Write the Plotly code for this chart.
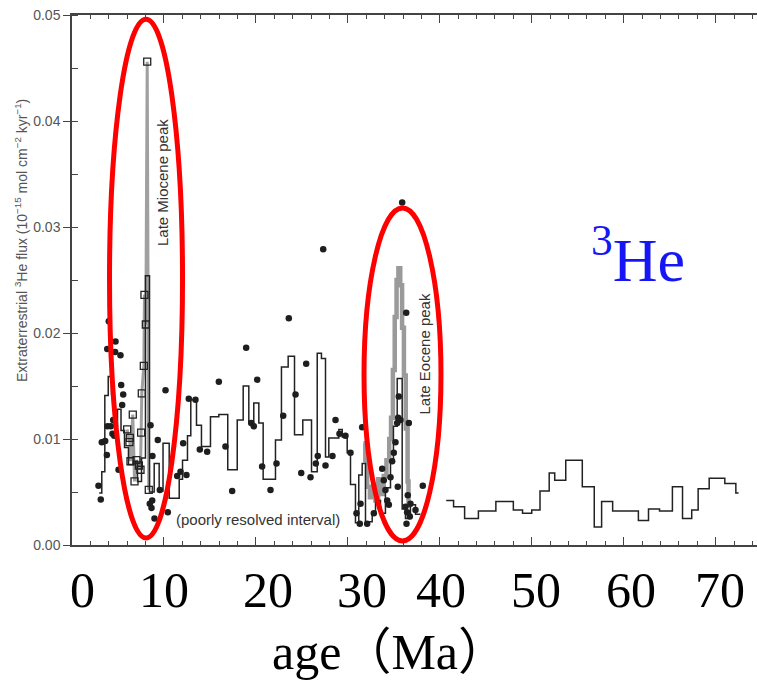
import plotly.graph_objects as go

# ---- data ----
# Main stepped 3He flux record, 0-38 Ma (bin edges in Ma, flux per bin)
step1_edges = [2.96, 3.24, 3.57, 3.94, 4.30, 4.57, 4.95, 5.33, 5.71, 6.14, 6.69, 7.12, 7.56, 7.99,
               8.43, 8.94, 9.48, 9.90, 10.57, 11.66, 12.02, 12.56, 12.92, 13.54, 14.08, 15.06, 15.97,
               16.94, 17.97, 18.62, 19.23, 19.77, 20.32, 20.79, 22.13, 22.78, 23.51, 24.20, 25.10,
               26.05, 26.67, 27.13, 27.57, 27.93, 29.02, 29.39, 29.93, 30.29, 30.83, 31.19, 31.56,
               31.92, 32.65, 33.01, 33.55, 34.09, 34.64, 34.96, 35.37, 35.91, 36.27, 36.81, 37.36, 37.90]
step1_flux = [0.0049, 0.0069, 0.0141, 0.0159, 0.0142, 0.0112, 0.0128, 0.0108, 0.0092, 0.0076, 0.0079,
              0.0060, 0.0082, 0.0254, 0.0050, 0.0077, 0.0051, 0.0096, 0.0044, 0.0062, 0.0080, 0.0103,
              0.0137, 0.0113, 0.0093, 0.0121, 0.0123, 0.0071, 0.0118, 0.0150, 0.0115, 0.0134, 0.0115,
              0.0062, 0.0099, 0.0168, 0.0178, 0.0104, 0.0118, 0.0069, 0.0181, 0.0176, 0.0083, 0.0101,
              0.0109, 0.0102, 0.0087, 0.0057, 0.0021, 0.0066, 0.0077, 0.0022, 0.0031, 0.0042, 0.0030,
              0.0054, 0.0080, 0.0112, 0.0157, 0.0034, 0.0025, 0.0038, 0.0029]

# Stepped record, 40-73 Ma
step2_edges = [40.7, 41.5, 42.7, 44.2, 46.1, 48.0, 49.0, 50.0, 50.9, 51.9, 52.5, 53.7, 55.5, 56.8,
               57.6, 58.8, 61.6, 62.7, 63.9, 65.3, 66.4, 67.4, 68.1, 69.3, 71.0, 72.2, 72.5]
step2_flux = [0.0042, 0.0036, 0.0025, 0.0032, 0.0041, 0.0033, 0.0030, 0.0033, 0.0051, 0.0068, 0.0061,
              0.0080, 0.0055, 0.0017, 0.0041, 0.0032, 0.0023, 0.0034, 0.0032, 0.0055, 0.0025, 0.0033,
              0.0053, 0.0063, 0.0058, 0.0049]

# Individual measurements (filled dots)
dot_age = [2.88, 3.13, 3.24, 3.61, 3.79, 3.83, 3.86, 4.00, 4.22, 4.40, 4.48, 4.59, 4.69, 4.73, 5.06,
           5.27, 5.35, 5.46, 5.57, 8.46, 8.54, 8.65, 8.72, 8.75, 8.97, 9.33, 9.55, 10.17, 10.42,
           11.44, 11.80, 12.09, 12.45, 12.70, 13.43, 13.90, 14.70, 15.97, 16.69, 17.42, 18.94,
           19.49, 19.77, 20.14, 20.68, 21.59, 22.24, 22.97, 23.58, 24.31, 24.93, 25.47, 25.94,
           26.52, 26.73, 27.32, 27.57, 28.33, 28.66, 29.09, 29.74, 30.29, 30.94, 31.30, 31.38,
           31.56, 32.10, 32.83, 33.73, 33.91, 34.09, 34.28, 34.46, 34.64, 34.82, 35.00, 35.18,
           35.37, 35.43, 35.47, 35.54, 35.73, 35.91, 36.27, 36.35, 36.38, 36.45, 36.52, 36.63,
           36.74, 36.81, 37.36, 38.15]
dot_flux = [0.0056, 0.0043, 0.0097, 0.0098, 0.0085, 0.0185, 0.0112, 0.0211, 0.0112, 0.0105, 0.0118,
            0.0103, 0.0182, 0.0192, 0.0071, 0.0179, 0.0151, 0.0132, 0.0142, 0.0039, 0.0113, 0.0035,
            0.0042, 0.0084, 0.0025, 0.0099, 0.0052, 0.0146, 0.0031, 0.0065, 0.0069, 0.0096, 0.0066,
            0.0138, 0.0137, 0.0090, 0.0088, 0.0154, 0.0093, 0.0051, 0.0186, 0.0115, 0.0112, 0.0156,
            0.0074, 0.0052, 0.0077, 0.0122, 0.0214, 0.0142, 0.0068, 0.0171, 0.0064, 0.0077, 0.0084,
            0.0279, 0.0075, 0.0084, 0.0118, 0.0105, 0.0103, 0.0087, 0.0030, 0.0020, 0.0039, 0.0111,
            0.0020, 0.0030, 0.0072, 0.0061, 0.0052, 0.0042, 0.0038, 0.0064, 0.0079, 0.0087, 0.0097,
            0.0115, 0.0055, 0.0120, 0.0140, 0.0118, 0.0323, 0.0036, 0.0219, 0.0020, 0.0031, 0.0047,
            0.0115, 0.0027, 0.0039, 0.0033, 0.0056]

# Late Miocene high-resolution record (open squares on grey line)
mio_age = [6.00, 6.25, 6.29, 6.36, 6.61, 6.80, 7.01, 7.27, 7.45, 7.52, 7.59, 7.81, 7.88, 8.03, 8.18, 8.35]
mio_flux = [0.0109, 0.0097, 0.0101, 0.0079, 0.0123, 0.0060, 0.0080, 0.0075, 0.0071, 0.0106, 0.0143,
            0.0169, 0.0236, 0.0208, 0.0456, 0.0052]

# Late Eocene high-resolution record (grey stepped line)
eoc_age = [31.7, 31.9, 32.1, 32.4, 32.7, 33.0, 33.3, 33.6, 33.9, 34.2, 34.5, 34.7, 34.9, 35.1, 35.3,
           35.5, 35.7, 35.9, 36.1, 36.3, 36.5, 36.6]
eoc_flux = [0.0096, 0.0080, 0.0055, 0.0045, 0.0052, 0.0042, 0.0062, 0.0048, 0.0065, 0.0080, 0.0100,
            0.0120, 0.0165, 0.0215, 0.0250, 0.0261, 0.0245, 0.0205, 0.0160, 0.0110, 0.0060, 0.0035]

x_tick_labels = ["0", "10", "20", "30", "40", "50", "60", "70"]
x_tick_label_pos = [1.09, 10.01, 21.32, 31.54, 40.13, 50.46, 60.79, 70.47]

# ---- figure ----
fig = go.Figure()

fig.add_trace(go.Scatter(x=eoc_age, y=eoc_flux, mode="lines", line_shape="hv",
                         line=dict(color="#9a9a9a", width=4.5), hoverinfo="skip"))
fig.add_trace(go.Scatter(x=mio_age, y=mio_flux, mode="lines",
                         line=dict(color="#a0a0a0", width=3), hoverinfo="skip"))
fig.add_trace(go.Scatter(x=step1_edges, y=step1_flux + [step1_flux[-1]], mode="lines", line_shape="hv",
                         line=dict(color="#222222", width=1.5)))
fig.add_trace(go.Scatter(x=step2_edges, y=step2_flux + [step2_flux[-1]], mode="lines", line_shape="hv",
                         line=dict(color="#222222", width=1.5)))
fig.add_trace(go.Scatter(x=mio_age, y=mio_flux, mode="markers",
                         marker=dict(symbol="square-open", size=7, color="#222222", line=dict(width=1.3))))
fig.add_trace(go.Scatter(x=dot_age, y=dot_flux, mode="markers",
                         marker=dict(symbol="circle", size=6.5, color="#1e1e1e")))

ann = []
for lbl, pos in zip(x_tick_labels, x_tick_label_pos):
    ann.append(dict(x=pos, y=(545 - 590) / 530, xref="x", yref="paper", text=lbl, showarrow=False,
                    xanchor="center", yanchor="middle",
                    font=dict(family="Liberation Serif", size=50, color="black")))
ann.append(dict(x=(390 - 72) / 685, y=(545 - 652) / 530, xref="paper", yref="paper",
                text="age（Ma）", showarrow=False, xanchor="center", yanchor="middle",
                font=dict(family="Liberation Serif, Noto Sans CJK JP", size=50, color="black")))
ann.append(dict(x=(638 - 72) / 685, y=(545 - 255) / 530, xref="paper", yref="paper",
                text="<sup>3</sup>He", showarrow=False, xanchor="center", yanchor="middle",
                font=dict(family="Liberation Serif", size=62, color="#1515f5")))
ann.append(dict(x=(21 - 72) / 685, y=(545 - 241) / 530, xref="paper", yref="paper",
                text="Extraterrestrial <sup>3</sup>He flux (10<sup>−15</sup> mol cm<sup>−2</sup> kyr<sup>−1</sup>)",
                textangle=-90, showarrow=False, xanchor="center", yanchor="middle",
                font=dict(family="Liberation Sans", size=14, color="#555555")))
ann.append(dict(x=(162.5 - 72) / 685, y=(545 - 182.5) / 530, xref="paper", yref="paper",
                text="Late Miocene peak", textangle=-90, showarrow=False,
                xanchor="center", yanchor="middle",
                font=dict(family="Liberation Sans", size=15, color="#333333")))
ann.append(dict(x=(423.5 - 72) / 685, y=(545 - 354) / 530, xref="paper", yref="paper",
                text="Late Eocene peak", textangle=-90, showarrow=False,
                xanchor="center", yanchor="middle",
                font=dict(family="Liberation Sans", size=15, color="#333333")))
ann.append(dict(x=(258 - 72) / 685, y=(545 - 519) / 530, xref="paper", yref="paper",
                text="(poorly resolved interval)", showarrow=False,
                xanchor="center", yanchor="middle",
                font=dict(family="Liberation Sans", size=15, color="#333333")))

shapes = [
    dict(type="circle", xref="x", yref="y", x0=4.08, x1=12.02, y0=0.00066, y1=0.0496,
         line=dict(color="#ff0000", width=5)),
    dict(type="circle", xref="x", yref="y", x0=31.76, x1=40.13, y0=0.00038, y1=0.0318,
         line=dict(color="#ff0000", width=5)),
]

fig.update_layout(
    width=757, height=684,
    margin=dict(l=72, r=0, t=15, b=139),
    paper_bgcolor="white", plot_bgcolor="white",
    showlegend=False,
    annotations=ann, shapes=shapes,
    xaxis=dict(range=[0, 74.5], showline=True, linecolor="#444444", linewidth=1.5,
               mirror="allticks", ticks="inside", tick0=0, dtick=10, ticklen=8,
               tickcolor="#444444", tickwidth=1.3, showticklabels=False,
               showgrid=False, zeroline=False,
               minor=dict(dtick=2, ticks="inside", ticklen=4, tickcolor="#444444", tickwidth=1.2)),
    yaxis=dict(range=[0, 0.05], showline=True, linecolor="#444444", linewidth=1.5,
               ticks="outside", dtick=0.01, tickformat=".2f", ticklen=7,
               tickcolor="#444444", tickwidth=1.3,
               tickfont=dict(family="Liberation Sans", size=14, color="#555555"),
               showgrid=False, zeroline=False,
               minor=dict(dtick=0.005, ticks="inside", ticklen=6, tickcolor="#444444", tickwidth=1.2)),
)

fig.write_html("out.html", config={"displayModeBar": False},
               post_script="document.body.style.margin='0px';document.body.style.overflow='hidden';")
